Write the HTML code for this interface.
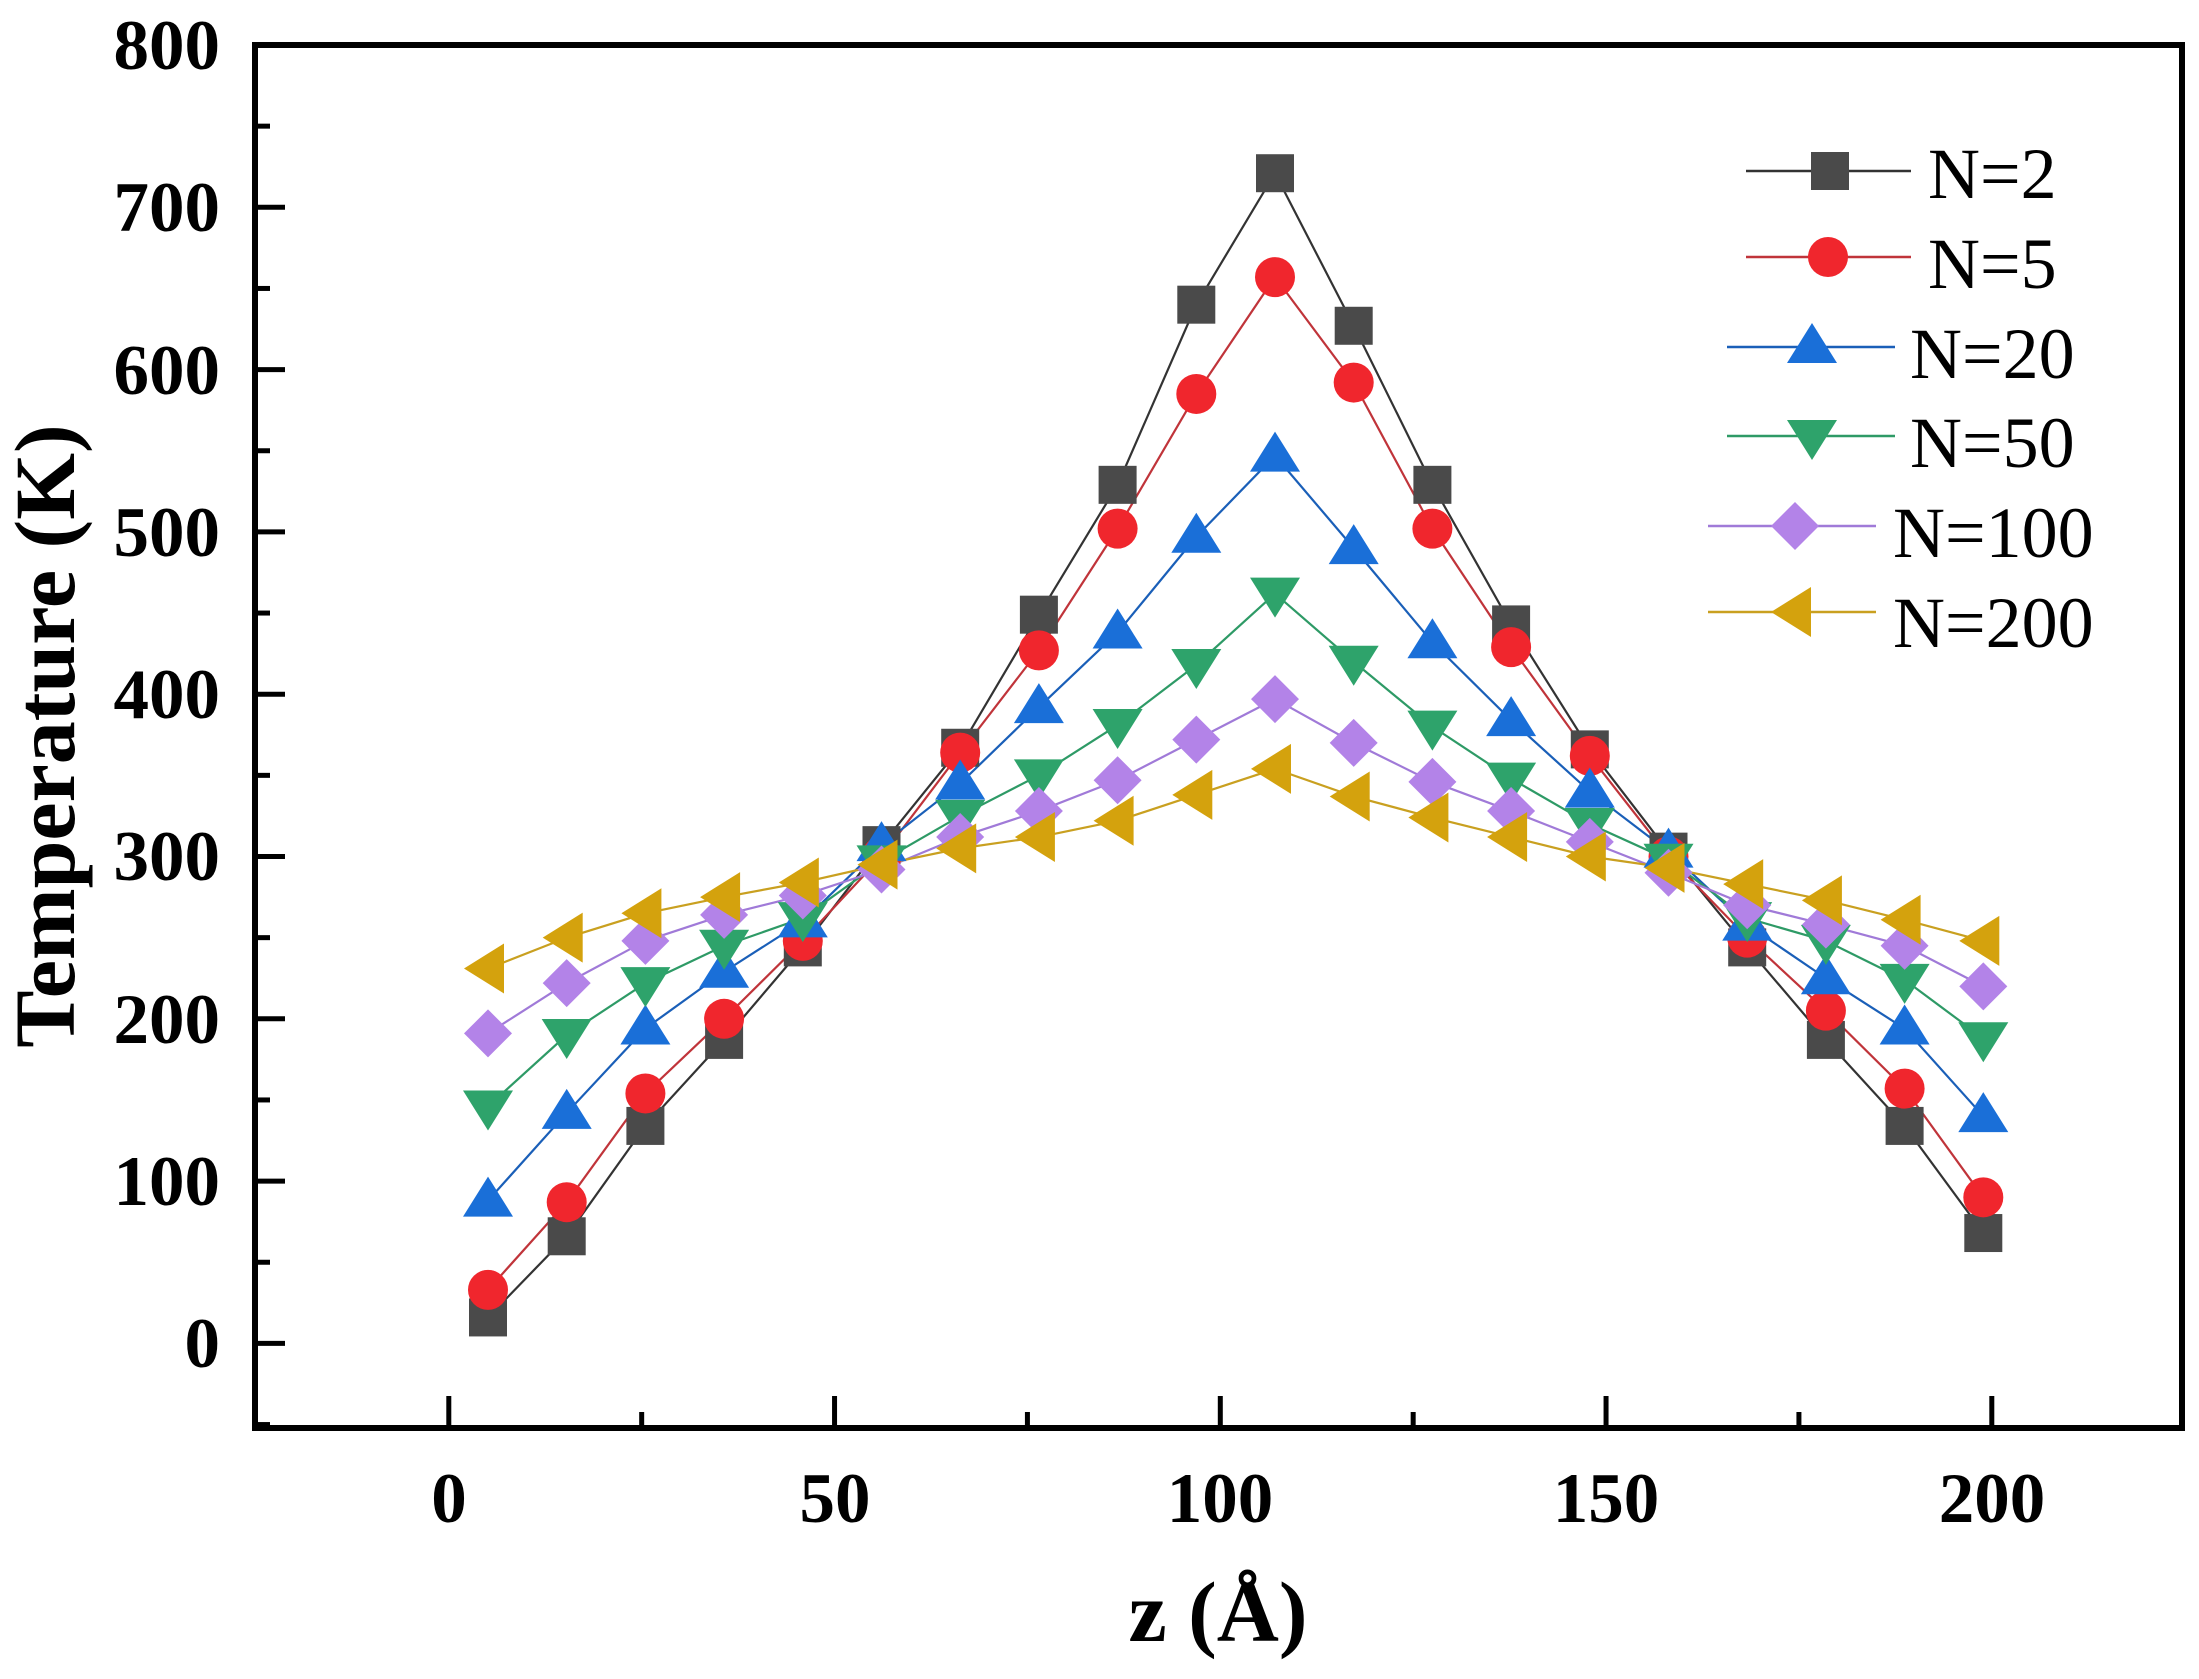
<!DOCTYPE html>
<html><head><meta charset="utf-8"><style>
html,body{margin:0;padding:0;background:#fff;}
svg{display:block;}
.tk{font-family:"Liberation Serif",serif;font-weight:bold;font-size:71px;fill:#000;}
.lg{font-family:"Liberation Serif",serif;font-size:72px;fill:#000;}
.tt{font-family:"Liberation Serif",serif;font-weight:bold;font-size:86px;fill:#000;}
</style></head><body>
<svg id="s" width="2199" height="1679" viewBox="0 0 2199 1679" xmlns="http://www.w3.org/2000/svg">
<rect width="2199" height="1679" fill="#fff"/>
<g id="plot"></g>
<rect x="255" y="45" width="1927" height="1383" fill="none" stroke="#000" stroke-width="6"/>
<g id="ticks" stroke="#000" stroke-width="5"></g>
<g class="tk" text-anchor="end">
<text x="220" y="69">800</text><text x="220" y="231">700</text><text x="220" y="394">600</text>
<text x="220" y="556">500</text><text x="220" y="718">400</text><text x="220" y="880">300</text>
<text x="220" y="1043">200</text><text x="220" y="1205">100</text><text x="220" y="1367">0</text>
</g>
<g class="tk" text-anchor="middle">
<text x="449" y="1522">0</text><text x="835" y="1522">50</text><text x="1220" y="1522">100</text>
<text x="1606" y="1522">150</text><text x="1992" y="1522">200</text>
</g>
<text class="tt" x="1218" y="1641" text-anchor="middle">z (Å)</text>
<text class="tt" x="0" y="0" text-anchor="middle" transform="translate(74,736) rotate(-90)">Temperature (K)</text>
<g class="lg">
<text x="1928" y="198">N=2</text><text x="1928" y="288">N=5</text>
<text x="1910" y="378">N=20</text><text x="1910" y="467">N=50</text>
<text x="1893" y="557">N=100</text><text x="1893" y="647">N=200</text>
</g>
<g id="leg"></g>
</svg>
<script>
var NS="http://www.w3.org/2000/svg";
function el(p,t,a){var e=document.createElementNS(NS,t);for(var k in a)e.setAttribute(k,a[k]);p.appendChild(e);return e;}
var T=document.getElementById('ticks');
function Y(v){return 45+(800-v)*1.623;}
function X(v){return 448.8+v*7.715;}
for(var v=-50;v<=800;v+=50){var y=Y(v);if(y>1425||y<48)continue;var L=(v%100==0)?30:15;el(T,'line',{x1:255,y1:y,x2:255+L,y2:y});}
for(var v=-25;v<=225;v+=25){var x=X(v);if(x<258||x>2179)continue;var L=(v%50==0)?32:16;el(T,'line',{x1:x,y1:1428,x2:x,y2:1428-L});}
var S=[
{c:'#4a4a4a',lc:'#333',m:'sq',d:[16,66,134,187,244,307,367,449,529,640,721,627,529,443,366,303,244,187,134,68]},
{c:'#f0262d',lc:'#c0343a',m:'ci',d:[33,87,154,200,248,300,364,427,502,585,657,592,502,429,362,300,250,205,157,90]},
{c:'#1a6fd8',lc:'#1a5fb8',m:'up',d:[88,142,194,229,260,307,345,392,438,497,547,490,432,384,340,303,258,225,194,140]},
{c:'#2ea36b',lc:'#2e9a66',m:'dn',d:[146,190,222,245,262,297,325,350,381,418,462,420,380,348,320,298,262,248,224,188]},
{c:'#b383e8',lc:'#a07ad8',m:'di',d:[191,222,248,264,276,292,312,328,347,372,397,370,346,328,309,290,270,258,245,220]},
{c:'#d4a20d',lc:'#c9a020',m:'lt',d:[231,250,265,275,284,295,305,312,322,338,354,337,324,312,300,293,283,273,261,248]}];
function mk(p,m,x,y,c){
 if(m=='sq')el(p,'rect',{x:x-19,y:y-19,width:38,height:38,fill:c});
 else if(m=='ci')el(p,'circle',{cx:x,cy:y,r:20,fill:c});
 else if(m=='up')el(p,'polygon',{points:(x)+','+(y-24)+' '+(x-25)+','+(y+16)+' '+(x+25)+','+(y+16),fill:c});
 else if(m=='dn')el(p,'polygon',{points:(x)+','+(y+24)+' '+(x-25)+','+(y-16)+' '+(x+25)+','+(y-16),fill:c});
 else if(m=='di')el(p,'polygon',{points:x+','+(y-24)+' '+(x+24)+','+y+' '+x+','+(y+24)+' '+(x-24)+','+y,fill:c});
 else el(p,'polygon',{points:(x-24)+','+y+' '+(x+16)+','+(y-25)+' '+(x+16)+','+(y+25),fill:c});
}
var P=document.getElementById('plot');
S.forEach(function(s){var pts=s.d.map(function(v,i){return (488+i*78.7)+','+Y(v);}).join(' ');
 el(P,'polyline',{points:pts,fill:'none',stroke:s.lc,'stroke-width':2.2});});
S.forEach(function(s){s.d.forEach(function(v,i){mk(P,s.m,488+i*78.7,Y(v),s.c);});});
var G=document.getElementById('leg');
var lx=[[1746,1911,1830],[1746,1911,1828],[1727,1895,1812],[1727,1895,1812],[1708,1876,1795],[1708,1876,1795]];
var ly=[171,257,347,436,526,612];
S.forEach(function(s,i){el(G,'line',{x1:lx[i][0],y1:ly[i],x2:lx[i][1],y2:ly[i],stroke:s.lc,'stroke-width':2.5});mk(G,s.m,lx[i][2],ly[i],s.c);});
</script>
</body></html>
